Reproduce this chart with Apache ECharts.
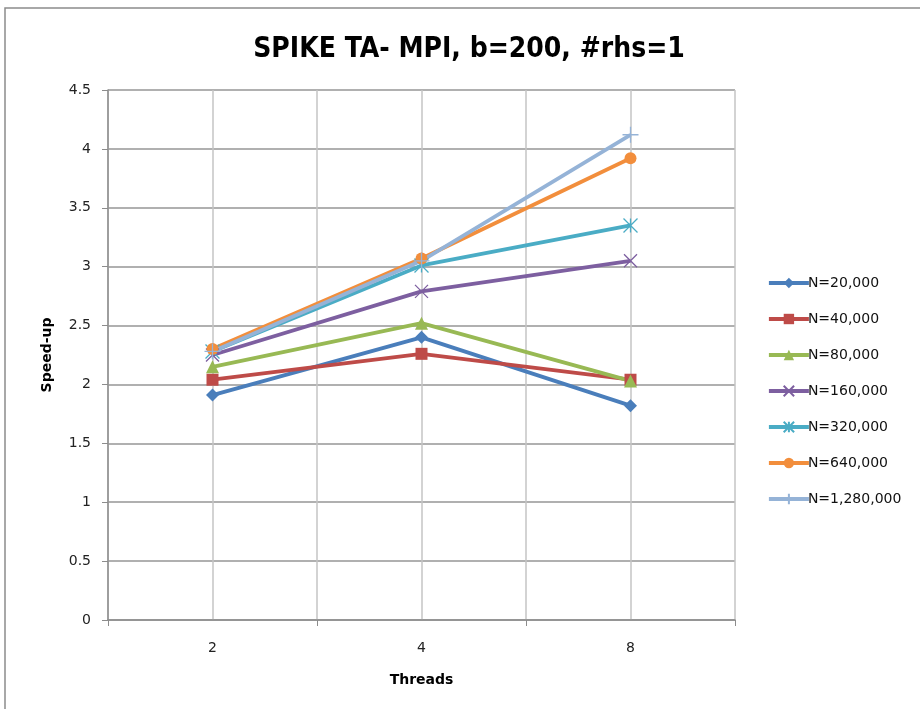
<!DOCTYPE html>
<html>
<head>
<meta charset="utf-8">
<script src="https://cdn.jsdelivr.net/npm/echarts@6/dist/echarts.min.js"></script>
<style>
html, body { margin: 0; padding: 0; background: #fff; }
#main { width: 920px; height: 709px; }
</style>
</head>
<body>
<div id="main"></div>
<script>
var threads = ['2', '4', '8'];
var seriesNames = ['N=20,000', 'N=40,000', 'N=80,000', 'N=160,000', 'N=320,000', 'N=640,000', 'N=1,280,000'];
var n20k = [1.91, 2.40, 1.82];
var n40k = [2.04, 2.26, 2.04];
var n80k = [2.15, 2.52, 2.03];
var n160k = [2.25, 2.79, 3.05];
var n320k = [2.28, 3.01, 3.35];
var n640k = [2.30, 3.07, 3.92];
var n1280k = [2.28, 3.05, 4.12];

var colors = ['#4A7EBB', '#BE4B48', '#98B954', '#7D5FA0', '#4AACC5', '#F28E3C', '#95B3D7'];
// Excel-style markers
var symX = 'path://M0,0L10,10M10,0L0,10';
var symStar = 'path://M0,0L10,10M10,0L0,10M5,0L5,10';
var symPlus = 'path://M5,0L5,10M0,5L10,5';
var symbols = ['diamond', 'rect', 'triangle', symX, symStar, 'circle', symPlus];
var sizes = [13, 12, 13, 13, 14, 12, 16];
var allData = [n20k, n40k, n80k, n160k, n320k, n640k, n1280k];
var font = 'DejaVu Sans, sans-serif';

var myChart = echarts.init(document.getElementById('main'));

var series = [];
for (var i = 0; i < seriesNames.length; i++) {
	var stroked = (i == 3 || i == 4 || i == 6);
	series.push({
		name: seriesNames[i],
		type: 'line',
		data: allData[i],
		symbol: symbols[i],
		symbolSize: sizes[i],
		showAllSymbol: true,
		lineStyle: { color: colors[i], width: 3.8 },
		itemStyle: stroked ? { color: 'rgba(0,0,0,0)', borderColor: colors[i], borderWidth: 1.3 } : { color: colors[i] },
		emphasis: { disabled: true },
		animation: false
	});
}

var option = {
	animation: false,
	color: colors,
	title: {
		text: 'SPIKE TA- MPI, b=200, #rhs=1',
		left: 464,
		top: 31,
		textAlign: 'center',
		textStyle: { fontFamily: 'DejaVu Sans Condensed, DejaVu Sans, sans-serif', fontSize: 28, fontWeight: 'bold', color: '#000' }
	},
	graphic: [{
		type: 'polyline',
		shape: { points: [[5, 709], [5, 8], [920, 8]] },
		style: { stroke: '#8c8c8c', lineWidth: 1.5, fill: null }
	}],
	legend: {
		orient: 'vertical',
		left: 762,
		top: 271,
		itemWidth: 40,
		itemHeight: 13,
		itemGap: 22,
		data: seriesNames,
		lineStyle: { width: 3.8 },
		textStyle: { fontFamily: font, fontSize: 14, color: '#111', padding: [0, 0, 0, -6] }
	},
	grid: { left: 108, right: 185, top: 90, bottom: 89 },
	xAxis: [{
		type: 'category',
		data: threads,
		boundaryGap: true,
		name: 'Threads',
		nameLocation: 'middle',
		nameGap: 53,
		nameTextStyle: { fontFamily: font, fontSize: 14, fontWeight: 'bold', color: '#000' },
		axisLine: { lineStyle: { color: '#8c8c8c', width: 1.5 } },
		axisTick: { show: true, length: 6, lineStyle: { color: '#8c8c8c' } },
		axisLabel: { margin: 21, fontFamily: font, fontSize: 14, color: '#222' },
		splitLine: { show: false }
	}, {
		type: 'value',
		min: 0,
		max: 6,
		interval: 1,
		show: true,
		axisLine: { show: false },
		axisTick: { show: false },
		axisLabel: { show: false },
		splitLine: { show: true, lineStyle: { color: '#c4c4c4', width: 1.5 } }
	}],
	yAxis: {
		type: 'value',
		min: 0,
		max: 4.5,
		interval: 0.5,
		name: 'Speed-up',
		nameLocation: 'middle',
		nameGap: 54,
		nameTextStyle: { fontFamily: font, fontSize: 14, fontWeight: 'bold', color: '#000' },
		axisLine: { show: true, lineStyle: { color: '#8c8c8c', width: 1.5 } },
		axisTick: { show: true, length: 6, lineStyle: { color: '#8c8c8c' } },
		axisLabel: { margin: 17, fontFamily: font, fontSize: 14, color: '#222' },
		splitLine: { show: true, lineStyle: { color: '#b0b0b0', width: 2 } }
	},
	series: series
};
myChart.setOption(option);
</script>
</body>
</html>
